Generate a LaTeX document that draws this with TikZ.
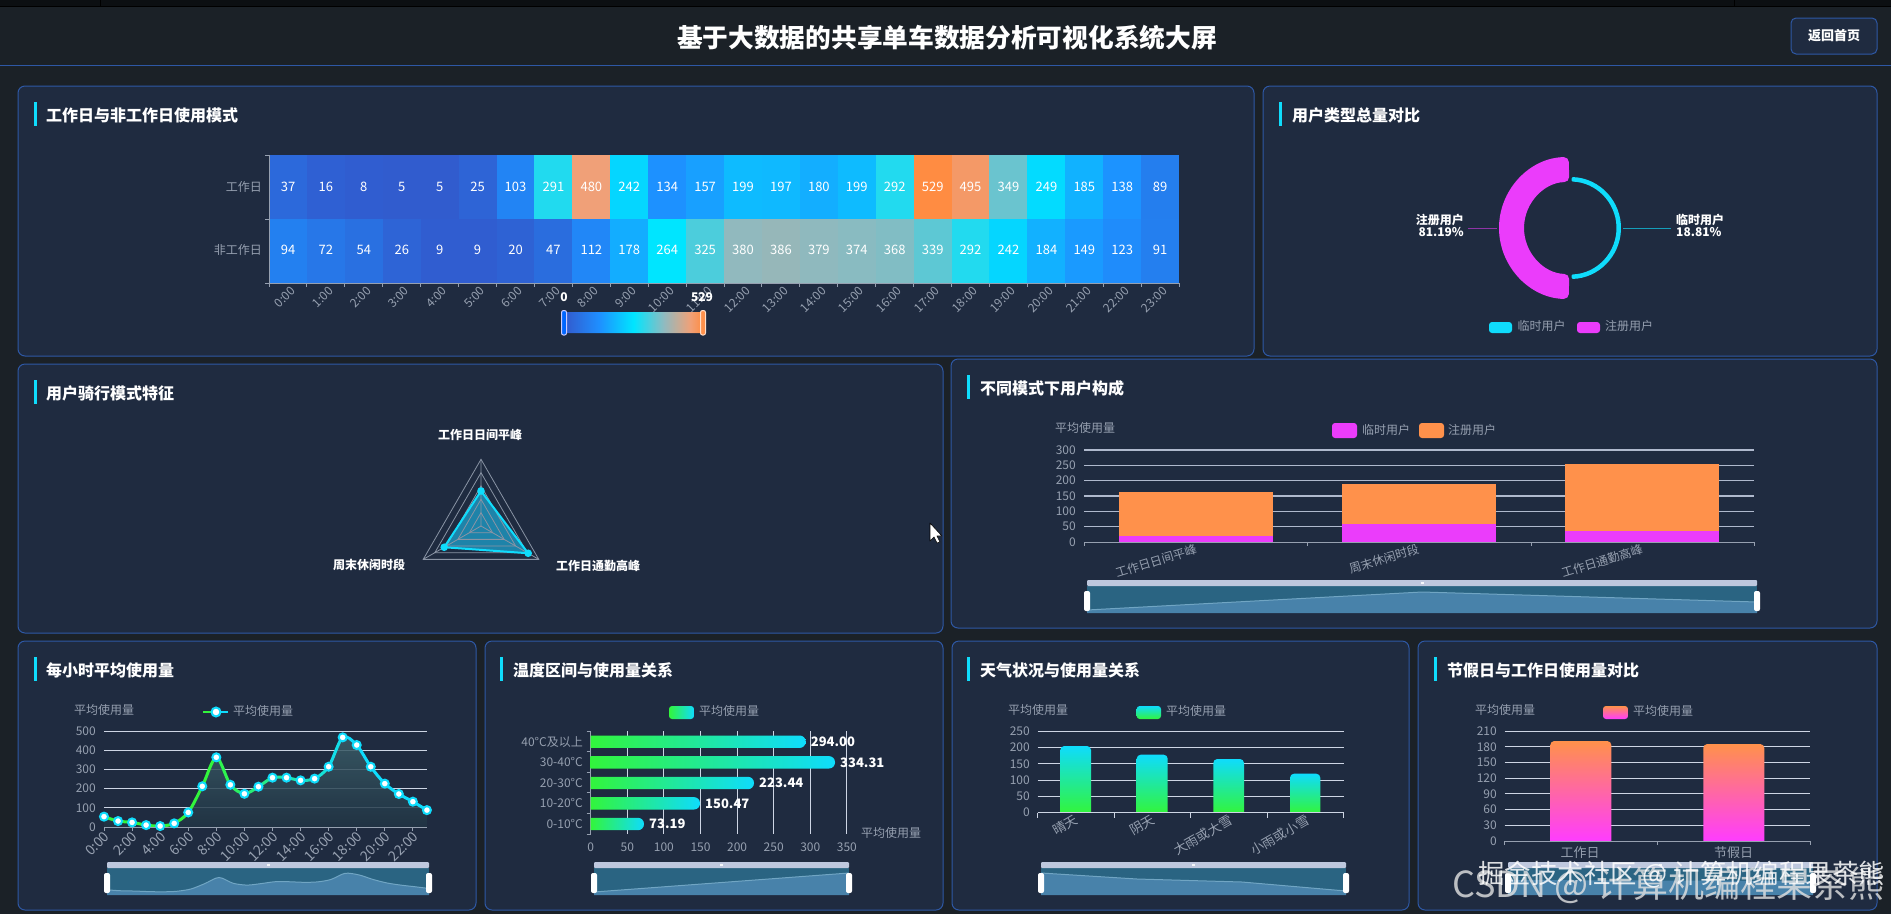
\documentclass[tikz,border=0pt]{standalone}
\usepackage{fontspec}
\setmainfont{Noto Sans CJK SC}
\usetikzlibrary{calc}

\definecolor{pagebg}{RGB}{27,33,39}
\definecolor{panelbg}{RGB}{31,43,64}
\definecolor{panelline}{RGB}{46,88,165}
\definecolor{cyanc}{RGB}{15,220,252}
\definecolor{greenc}{RGB}{50,245,60}
\definecolor{pinkc}{RGB}{235,60,251}
\definecolor{orangec}{RGB}{255,145,75}
\definecolor{axisgray}{RGB}{150,160,176}
\definecolor{gridc}{RGB}{205,213,228}
\definecolor{gridb}{RGB}{175,185,205}
\definecolor{areatop}{RGB}{60,95,105}
\definecolor{areabot}{RGB}{33,52,68}
\definecolor{radarfill}{RGB}{30,190,240}
\definecolor{zoomback}{RGB}{42,100,130}
\definecolor{zoomfill}{RGB}{72,130,170}
\definecolor{zoomstroke}{RGB}{112,165,195}
\definecolor{zoomtopc}{RGB}{190,200,222}

\pgfdeclarehorizontalshading{heatscale}{100bp}{rgb(0bp)=(0.2,0.35,0.8);rgb(25bp)=(0.2,0.35,0.8);rgb(37.5bp)=(0.12,0.56,1);rgb(50bp)=(0,0.9,1);rgb(61bp)=(0.57,0.73,0.75);rgb(70.4bp)=(0.94,0.63,0.47);rgb(75bp)=(1,0.55,0.26);rgb(100bp)=(1,0.55,0.26)}

\tikzset{
  panelbox/.style={fill=panelbg,draw=panelline,line width=1pt,rounded corners=7},
  paneltitle/.style={anchor=west,inner sep=0,text=white,font=\fontsize{16}{18}\selectfont\bfseries},
  axislabel/.style={inner sep=0,text=axisgray,font=\fontsize{12}{14}\selectfont},
  numlabel/.style={inner sep=0,text=white,font=\fontsize{13}{14}\selectfont},
  pielabel/.style={inner sep=0,text=white,font=\fontsize{12}{12}\selectfont\bfseries},
  gridline/.style={draw=gridc,line width=1pt},
  axisline/.style={draw=axisgray,line width=1pt},
  swatch/.style={rounded corners=3},
  zoomgrip/.style={fill=white,rounded corners=2},
  hourdot/.style={circle,fill=white,draw=cyanc,line width=2pt,inner sep=0,minimum size=8pt},
}

% panel with its title and the small bar on its left
\newcommand{\panel}[7]{
  \draw[panelbox] (#1,#2) rectangle (#3,#4);
  \fill[cyanc] (#5,#2+16) rectangle (#5+3,#2+40);
  \node[paneltitle] (#7) at (#5+#6,#2+29) {#7};
}
% zoom slider under a chart
\newcommand{\zoomframe}[3]{
  \fill[zoomback] (#1,#3+6) rectangle (#2,#3+33);
}
\newcommand{\zoomcap}[3]{
  \fill[zoomtopc,rounded corners=1] (#1,#3) rectangle (#2,#3+6);
  \fill[white!85!zoomtopc] ($(#1,#3)!0.5!(#2,#3)+(-1.5,2)$) rectangle ++(3,2);
  \fill[zoomgrip] (#1-3,#3+11) rectangle (#1+3,#3+31);
  \fill[zoomgrip] (#2-3,#3+11) rectangle (#2+3,#3+31);
}
\newcommand{\setheat}[1]{
  \ifnum#1<132
    \pgfmathtruncatemacro{\hr}{50-#1/132*20}
    \pgfmathtruncatemacro{\hg}{90+#1/132*54}
    \pgfmathtruncatemacro{\hb}{205+#1/132*50}
  \else\ifnum#1<264
    \pgfmathtruncatemacro{\hr}{30-(#1-132)/132*30}
    \pgfmathtruncatemacro{\hg}{144+(#1-132)/132*85}
    \pgfmathtruncatemacro{\hb}{255}
  \else\ifnum#1<380
    \pgfmathtruncatemacro{\hr}{(#1-264)/116*145}
    \pgfmathtruncatemacro{\hg}{229-(#1-264)/116*44}
    \pgfmathtruncatemacro{\hb}{255-(#1-264)/116*65}
  \else\ifnum#1<480
    \pgfmathtruncatemacro{\hr}{145+(#1-380)/100*95}
    \pgfmathtruncatemacro{\hg}{185-(#1-380)/100*25}
    \pgfmathtruncatemacro{\hb}{190-(#1-380)/100*70}
  \else
    \pgfmathtruncatemacro{\hr}{240+(#1-480)/49*15}
    \pgfmathtruncatemacro{\hg}{160-(#1-480)/49*20}
    \pgfmathtruncatemacro{\hb}{120-(#1-480)/49*54}
  \fi\fi\fi\fi
  \definecolor{heatc}{RGB}{\hr,\hg,\hb}
}

\begin{document}
\begin{tikzpicture}[x=1pt,y=-1pt]
  \useasboundingbox (0,0) rectangle (1891,914);
  \fill[pagebg] (0,0) rectangle (1891,914);
  % top strip and header
  \fill[black!55!pagebg] (0,0) rectangle (1891,6);
  \draw[black,line width=1pt] (0,6.5) -- (1891,6.5);
  \draw[black,line width=1pt] (100,0) -- (100,6);
  \draw[black,line width=1pt] (1734,0) -- (1734,6);
  \draw[panelline,line width=1pt] (0,65) -- (1891,65);
  \node[inner sep=0,text=white,font=\fontsize{25.7}{28}\selectfont\bfseries] (headline) at (947,38) {基于大数据的共享单车数据分析可视化系统大屏};
  \draw[panelbox,rounded corners=5] (1791,18) rectangle (1877,54);
  \node[inner sep=0,text=white,font=\fontsize{13}{14}\selectfont\bfseries] (backhome) at (1834,36) {返回首页};

  \panel{18}{86}{1254}{356}{34}{12}{工作日与非工作日使用模式}
  \panel{1263}{86}{1877}{356}{1279}{13}{用户类型总量对比}
  \panel{18}{364}{943}{633}{34}{12}{用户骑行模式特征}
  \panel{951}{359}{1877}{628}{967}{13}{不同模式下用户构成}
  \panel{18}{641}{476}{910}{34}{12}{每小时平均使用量}
  \panel{485}{641}{943}{910}{500}{13}{温度区间与使用量关系}
  \panel{952}{641}{1409}{910}{967}{13}{天气状况与使用量关系}
  \panel{1418}{641}{1877}{910}{1434}{13}{节假日与工作日使用量对比}

  % heat map
  \foreach \v [count=\i from 0] in {37,16,8,5,5,25,103,291,480,242,134,157,199,197,180,199,292,529,495,349,249,185,138,89} {
    \setheat{\v}
    \fill[heatc] (269+\i*37.92,155) rectangle ++(37.92,64);
    \node[numlabel] (worka\i) at (288+\i*37.92,187) {\v};
  }
  \foreach \v [count=\i from 0] in {94,72,54,26,9,9,20,47,112,178,264,325,380,386,379,374,368,339,292,242,184,149,123,91} {
    \setheat{\v}
    \fill[heatc] (269+\i*37.92,219) rectangle ++(37.92,64);
    \node[numlabel] (restb\i) at (288+\i*37.92,250) {\v};
  }
  \draw[axisline] (269,155) -- (269,283) -- (1179,283);
  \draw[axisline] (265,155) -- (269,155) (265,219) -- (269,219) (265,283) -- (269,283);
  \node[axislabel,anchor=east] (workrow) at (262,187) {工作日};
  \node[axislabel,anchor=east] (restrow) at (262,250) {非工作日};
  \foreach \i in {0,...,23} {
    \draw[axisline] (269+\i*37.92,283) -- ++(0,4);
    \node[axislabel,anchor=east,rotate=45] (hourlab\i) at (293+\i*37.92,289) {\i:00};
  }
  \draw[axisline] (1179,283) -- ++(0,4);
  \shade[shading=heatscale,rounded corners=2] (564,312) rectangle (703,333);
  \draw[fill=blue!60!cyan,draw=white!80!blue,line width=1pt,rounded corners=2] (561.5,310.5) rectangle (566.5,335);
  \draw[fill=orangec,draw=white!70!orangec,line width=1pt,rounded corners=2] (700.5,310.5) rectangle (705.5,335);
  \node[pielabel] (mapmin) at (564,297) {0};
  \node[pielabel] (mapmax) at (702,297) {529};

  % donut
  \begin{scope}[shift={(1570,228)},y=1pt]
    \fill[pinkc,rounded corners=5] (91:71) arc (91:269:71) -- (269:46) arc (269:91:46) -- cycle;
    \fill[cyanc,rounded corners=1] (88:51) arc (88:-88:51) -- (-88:46.5) arc (-88:88:46.5) -- cycle;
  \end{scope}
  \draw[pinkc!55!panelbg,line width=1pt] (1468,228) -- (1497,228);
  \draw[cyanc!65!panelbg,line width=1pt] (1623,228) -- (1671,228);
  \node[pielabel,anchor=east] (regname) at (1464,220) {注册用户};
  \node[pielabel,anchor=east] (regpct) at (1464,232) {81.19\%};
  \node[pielabel,anchor=west] (tmpname) at (1676,220) {临时用户};
  \node[pielabel,anchor=west] (tmppct) at (1676,232) {18.81\%};
  \fill[cyanc,swatch] (1489,322) rectangle (1512,333);
  \node[axislabel,anchor=west] (legtmp) at (1517.5,326) {临时用户};
  \fill[pinkc,swatch] (1577,322) rectangle (1600,333);
  \node[axislabel,anchor=west] (legreg) at (1605,326) {注册用户};

  % radar
  \begin{scope}[shift={(481,526)},y=1pt]
    \coordinate (radara) at (90:35);
    \coordinate (radarb) at (330:54.5);
    \coordinate (radarc) at (210:42.5);
    \fill[radarfill,fill opacity=.6] (radara) -- (radarb) -- (radarc) -- cycle;
    \foreach \r in {13.3,26.7,40,53.3,66.7}
      \draw[axisgray!90!panelbg,line width=.8pt] (90:\r) -- (210:\r) -- (330:\r) -- cycle;
    \draw[axisgray!90!panelbg,line width=.8pt] (0,0) -- (90:66.7) (0,0) -- (210:66.7) (0,0) -- (330:66.7);
    \draw[cyanc,line width=2pt,line join=round] (radara) -- (radarb) -- (radarc) -- cycle;
    \fill[cyanc] (radara) circle (3.8) (radarb) circle (3.8) (radarc) circle (3.8);
  \end{scope}
  \node[pielabel] (radartop) at (480,435) {工作日日间平峰};
  \node[pielabel] (radarleft) at (369,565) {周末休闲时段};
  \node[pielabel] (radarright) at (598,566) {工作日通勤高峰};

  % stacked bars
  \foreach \v [count=\i from 0] in {0,50,100,150,200,250,300} {
    \ifnum\i>0 \draw[gridline,draw=gridb,line width=1.6pt] (1084,542-\i*15.33) -- (1754,542-\i*15.33); \fi
    \node[axislabel,anchor=east] (stacky\i) at (1076,542-\i*15.33) {\v};
  }
  \fill[orangec] (1119,536) rectangle (1273,492);
  \fill[orangec] (1342,524) rectangle (1496,484);
  \fill[orangec] (1565,531) rectangle (1719,464);
  \fill[pinkc] (1119,542) rectangle (1273,536);
  \fill[pinkc] (1342,542) rectangle (1496,524);
  \fill[pinkc] (1565,542) rectangle (1719,531);
  \draw[axisline] (1084,542) -- (1754,542);
  \foreach \x in {1084,1307,1531,1754} \draw[axisline] (\x,542) -- ++(0,4);
  \node[axislabel,rotate=17] (stackxa) at (1156,561) {工作日日间平峰};
  \node[axislabel,rotate=17] (stackxb) at (1384,559) {周末休闲时段};
  \node[axislabel,rotate=17] (stackxc) at (1602,561) {工作日通勤高峰};
  \node[axislabel] (stackname) at (1085,428) {平均使用量};
  \fill[pinkc,swatch] (1332,423) rectangle (1357,438);
  \node[axislabel,anchor=west] (stacklega) at (1362,430) {临时用户};
  \fill[orangec,swatch] (1419,423) rectangle (1444,438);
  \node[axislabel,anchor=west] (stacklegb) at (1448,430) {注册用户};
  \zoomframe{1087}{1757}{580}
  \fill[zoomfill] (1087,613) -- (1087,610) -- (1422,592) -- (1757,602) -- (1757,613) -- cycle;
  \draw[zoomstroke,line width=1pt] (1087,610) -- (1422,592) -- (1757,602);
  \zoomcap{1087}{1757}{580}

  % hourly line
  \foreach \v [count=\i from 0] in {54,31,24,10,5,19,76,212,363,220,173,210,257,257,243,252,314,467,427,314,226,172,132,88} {
    \coordinate (h\i) at (104+\i*14.04,827-\v*0.192);
    \coordinate (m\i) at (107+\i*14,892-\v*0.04);
  }
  \foreach \v [count=\i from 0] in {0,100,200,300,400,500} {
    \ifnum\i>0 \draw[gridline] (104,827-\i*19.2) -- (427,827-\i*19.2); \fi
    \node[axislabel,anchor=east] (houry\i) at (96,827-\i*19.2) {\v};
  }
  \shade[top color=areatop,bottom color=areabot,fill opacity=.85] (104,827) -- plot[smooth,samples at={0,...,23}] (h\x) -- (427,827) -- cycle;
  \foreach \i in {0,...,22} {
    \pgfmathtruncatemacro{\mixp}{min(100,max(0,(\i-7)*10))}
    \begin{scope}
      \clip (104+\i*14.04,700) rectangle ++(14.04,140);
      \draw[cyanc!\mixp!greenc,line width=3pt] plot[smooth,samples at={0,...,23}] (h\x);
    \end{scope}
  }
  \draw[axisline] (104,827) -- (427,827);
  \foreach \i in {0,2,...,22} {
    \draw[axisline] (104+\i*14.04,827) -- ++(0,4);
    \node[axislabel,anchor=east,rotate=45,font=\fontsize{14}{14}\selectfont] (hourx\i) at (107+\i*14.04,834) {\i:00};
  }
  \foreach \i in {0,...,23} \node[hourdot] (dot\i) at (h\i) {};
  \node[axislabel] (hourname) at (104,710) {平均使用量};
  \draw[greenc,line width=1.5pt] (203,712) -- (216,712);
  \draw[cyanc,line width=1.5pt] (216,712) -- (228,712);
  \node[hourdot,minimum size=9pt] (hourleg) at (216,712) {};
  \node[axislabel,anchor=west] (hourlegtext) at (233,711) {平均使用量};
  \zoomframe{107}{429}{862}
  \fill[zoomfill] (107,895) -- plot[smooth,samples at={0,...,23}] (m\x) -- (429,895) -- cycle;
  \draw[zoomstroke,line width=1pt] plot[smooth,samples at={0,...,23}] (m\x);
  \zoomcap{107}{429}{862}

  % temperature bars
  \foreach \v [count=\i from 0] in {0,50,...,350} {
    \ifnum\i>0 \draw[gridline] (590.7+\i*36.6,731) -- (590.7+\i*36.6,834); \fi
    \node[axislabel] (tempx\i) at (590.7+\i*36.6,847) {\v};
  }
  \draw[axisline] (590.7,731) -- (590.7,834);
  \foreach \i in {0,...,5} \draw[axisline] (586.7,731+\i*20.6) -- (590.7,731+\i*20.6);
  \foreach \e/\c/\t/\n [count=\i from 0] in {805.7/741.7/40°C及以上/294.00,835/762.3/30-40°C/334.31,754/783/20-30°C/223.44,700/803.3/10-20°C/150.47,644/824/0-10°C/73.19} {
    \shade[left color=greenc,right color=cyanc] (590.7,\c-6.2) [rounded corners=6] -- (\e,\c-6.2) -- (\e,\c+6.2) [sharp corners] -- (590.7,\c+6.2) -- cycle;
    \node[axislabel,anchor=east] (tempy\i) at (583,\c) {\t};
    \node[numlabel,anchor=west,font=\fontsize{13}{14}\selectfont\bfseries] (tempval\i) at (\e+5,\c) {\n};
  }
  \node[axislabel] (tempname) at (891,833) {平均使用量};
  \shade[left color=greenc,right color=cyanc,swatch] (669,706) rectangle (694,719);
  \node[axislabel,anchor=west] (templeg) at (699,711) {平均使用量};
  \zoomframe{594}{849}{862}
  \fill[zoomfill] (594,895) -- (594,892) -- (849,873) -- (849,895) -- cycle;
  \draw[zoomstroke,line width=1pt] (594,892) -- (849,873);
  \zoomcap{594}{849}{862}

  % weather bars
  \foreach \v [count=\i from 0] in {0,50,100,150,200,250} {
    \ifnum\i>0 \draw[gridline] (1037.7,812.7-\i*16.33) -- (1343.7,812.7-\i*16.33); \fi
    \node[axislabel,anchor=east] (weathery\i) at (1030,812.7-\i*16.33) {\v};
  }
  \foreach \a/\b/\t in {1060.3/1091/746,1136.7/1167.7/754.7,1213.3/1244/759,1290/1320.3/773.7}
    \shade[top color=cyanc,bottom color=greenc] (\a,812.7) [rounded corners=4] -- (\a,\t) -- (\b,\t) [sharp corners] -- (\b,812.7) -- cycle;
  \draw[axisline,draw=gridc] (1037.7,812.7) -- (1343.7,812.7);
  \foreach \x in {1037.7,1114,1190.3,1267.3,1343.7} \draw[axisline,draw=gridc] (\x,812.7) -- ++(0,5);
  \node[axislabel,rotate=30,font=\fontsize{13}{14}\selectfont] (weatherxa) at (1065,825) {晴天};
  \node[axislabel,rotate=30,font=\fontsize{13}{14}\selectfont] (weatherxb) at (1142,825) {阴天};
  \node[axislabel,rotate=30,font=\fontsize{13}{14}\selectfont] (weatherxc) at (1203,835) {大雨或大雪};
  \node[axislabel,rotate=30,font=\fontsize{13}{14}\selectfont] (weatherxd) at (1280,835) {小雨或小雪};
  \node[axislabel] (weathername) at (1038,710) {平均使用量};
  \shade[top color=cyanc,bottom color=greenc,swatch] (1136.7,706) rectangle (1161,719);
  \node[axislabel,anchor=west] (weatherleg) at (1166,711) {平均使用量};
  \zoomframe{1041}{1346}{862}
  \fill[zoomfill] (1041,895) -- (1041,873) -- (1137,879) -- (1242,882) -- (1346,891) -- (1346,895) -- cycle;
  \draw[zoomstroke,line width=1pt] (1041,873) -- (1137,879) -- (1242,882) -- (1346,891);
  \zoomcap{1041}{1346}{862}

  % holiday bars
  \definecolor{holidayb}{RGB}{255,60,255}
  \foreach \v [count=\i from 0] in {0,30,...,210} {
    \ifnum\i>0 \draw[gridline] (1504.7,841-\i*15.71) -- (1810,841-\i*15.71); \fi
    \node[axislabel,anchor=east] (holidayy\i) at (1497,841-\i*15.71) {\v};
  }
  \foreach \a/\b/\t in {1550.3/1611.3/741,1703.3/1764.3/744}
    \shade[top color=orangec,bottom color=holidayb] (\a,841) [rounded corners=4] -- (\a,\t) -- (\b,\t) [sharp corners] -- (\b,841) -- cycle;
  \draw[axisline] (1504.7,841) -- (1810,841);
  \foreach \x in {1504.7,1657.3,1810} \draw[axisline] (\x,841) -- ++(0,4);
  \node[axislabel,font=\fontsize{13}{14}\selectfont] (holidayxa) at (1580,853) {工作日};
  \node[axislabel,font=\fontsize{13}{14}\selectfont] (holidayxb) at (1733.7,853) {节假日};
  \node[axislabel] (holidayname) at (1505,710) {平均使用量};
  \shade[top color=orangec,bottom color=holidayb,swatch] (1603,706) rectangle (1628,719);
  \node[axislabel,anchor=west] (holidayleg) at (1633,711) {平均使用量};
  \zoomframe{1508}{1813}{862}
  \fill[zoomfill] (1508,895) -- (1508,880) -- (1813,881) -- (1813,895) -- cycle;
  \zoomcap{1508}{1813}{862}

  % mouse pointer
  \draw[fill=white,draw=black,line width=.6pt,line join=round] (930,523) -- (930,541) -- (934,537) -- (937,543) -- (940,542) -- (937,536) -- (942,536) -- cycle;

  % watermarks
  \node[inner sep=0,anchor=east,text=white!78!gray,text opacity=.8,font=\fontsize{36}{38}\selectfont] (markcsdn) at (1885,885) {CSDN @ 计算机编程果茶熊};
  \node[inner sep=0,anchor=east,text=white,text opacity=.85,font=\fontsize{26.4}{28}\selectfont] (markjuejin) at (1885,875) {掘金技术社区 @ 计算机编程果茶熊};
\end{tikzpicture}
\end{document}
